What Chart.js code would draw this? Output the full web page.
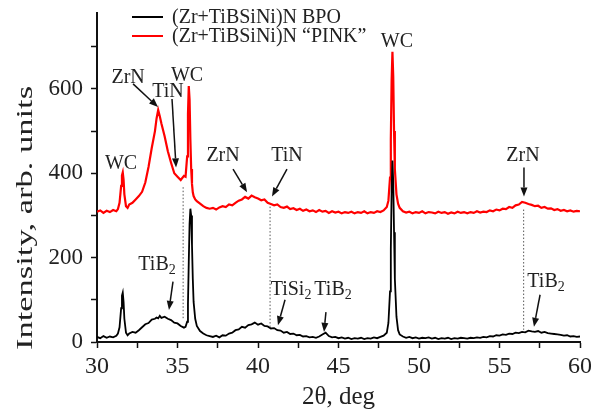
<!DOCTYPE html>
<html>
<head>
<meta charset="utf-8">
<script src="https://cdn.jsdelivr.net/npm/chart.js@4.4.1/dist/chart.umd.min.js"></script>
<style>
    html, body { margin: 0; padding: 0; background: #fff; }
</style>
</head>
<body>
<canvas id="xrd-chart" width="591" height="412"></canvas>
<script>
// 2theta grid, deg (finer around the sharp WC peaks)
const twoTheta = [
    30.0, 30.2, 30.4, 30.6, 30.8, 31.0, 31.2, 31.3, 31.4, 31.5, 31.55, 31.6, 31.65, 31.7, 31.8, 31.9, 32.0,
    32.2, 32.4, 32.6, 32.8, 33.0, 33.2, 33.4, 33.6, 33.7, 33.8, 33.9, 34.0, 34.2, 34.4, 34.6, 34.8, 35.0, 35.2, 35.4,
    35.5, 35.6, 35.65, 35.7, 35.75, 35.8, 35.85, 35.9, 35.95, 36.0, 36.1, 36.2,
    36.4, 36.6, 36.8, 37.0, 37.2, 37.4, 37.6, 37.8, 38.0, 38.2,
    38.4, 38.6, 38.8, 39.0, 39.2, 39.4, 39.6, 39.8, 40.0, 40.2,
    40.4, 40.6, 40.8, 41.0, 41.2, 41.4, 41.6, 41.8, 42.0, 42.2,
    42.4, 42.6, 42.8, 43.0, 43.2, 43.4, 43.6, 43.8, 44.0, 44.2,
    44.4, 44.6, 44.8, 45.0, 45.2, 45.4, 45.6, 45.8, 46.0, 46.2,
    46.4, 46.6, 46.8, 47.0, 47.2, 47.4, 47.6, 47.8,
    48.0, 48.1, 48.2, 48.25, 48.3, 48.35, 48.4, 48.45, 48.5, 48.6, 48.7, 48.8,
    49.0, 49.2, 49.4, 49.6, 49.8, 50.0, 50.2, 50.4, 50.6, 50.8,
    51.0, 51.2, 51.4, 51.6, 51.8, 52.0, 52.2, 52.4, 52.6, 52.8,
    53.0, 53.2, 53.4, 53.6, 53.8, 54.0, 54.2, 54.4, 54.6, 54.8,
    55.0, 55.2, 55.4, 55.6, 55.8, 56.0, 56.2, 56.4, 56.6, 56.8,
    57.0, 57.2, 57.4, 57.6, 57.8, 58.0, 58.2, 58.4, 58.6, 58.8,
    59.0, 59.2, 59.4, 59.6, 59.8, 60.0
];

const bpoIntensity = [
    12, 9, 14, 10, 13, 11, 15, 20, 35, 80, 110, 117, 95, 55, 22, 16, 20,
    24, 22, 28, 35, 42, 45, 53, 55, 58, 56, 62, 57, 60, 55, 52, 46, 44, 38, 34,
    36, 48, 90, 190, 280, 316, 300, 230, 150, 95, 55, 38,
    26, 20, 16, 14, 12, 15, 11, 16, 15, 20,
    22, 28, 30, 36, 34, 40, 42, 46, 41, 44,
    38, 37, 32, 33, 28, 27, 22, 24, 19, 20,
    16, 17, 13, 14, 11, 12, 10, 13, 18, 22,
    14, 11, 12, 9, 11, 8, 10, 7, 9, 8,
    10, 7, 9, 8, 11, 9, 12, 15,
    22, 45, 120, 220, 360, 430, 380, 260, 150, 60, 28, 18,
    13, 10, 12, 9, 11, 8, 10, 9, 11, 8,
    10, 7, 9, 8, 10, 7, 9, 8, 10, 9,
    8, 10, 9, 11, 10, 12, 11, 14, 13, 16,
    15, 18, 17, 20, 19, 22, 21, 24, 23, 27,
    25, 24, 26, 22, 24, 21, 20, 19, 18, 17,
    15, 16, 13, 14, 12, 13
];

const pinkIntensity = [
    309, 312, 306, 311, 308, 313, 310, 315, 330, 370, 395, 402, 385, 350, 322, 318, 326,
    330, 338, 346, 356, 378, 415, 460, 500, 530, 550, 535, 518, 488, 452, 425, 400, 392, 384, 394,
    392, 440, 540, 607, 575, 480, 410, 375, 355, 346, 338, 334,
    328, 322, 318, 316, 318, 314, 319, 322, 320, 326,
    324, 330, 335, 338, 344, 340, 347, 343, 340, 336,
    338, 330, 327, 324, 326, 320, 318, 321, 315, 317,
    313, 316, 311, 314, 310, 312, 308, 313, 309, 311,
    306, 310, 307, 309, 305, 308, 306, 309, 305, 308,
    306, 310, 305, 308, 306, 310, 308, 312,
    320, 335, 390, 480, 620, 688, 630, 500, 410, 350, 328, 318,
    310, 307, 309, 305, 308, 306, 310, 305, 308, 307,
    305, 309, 306, 308, 304, 307, 305, 309, 306, 308,
    305, 308, 306, 310, 307, 309, 308, 312, 310, 314,
    312, 316, 315, 320, 318, 324, 326, 332, 330, 327,
    325, 322, 323, 318, 320, 316, 317, 313, 315, 311,
    313, 310, 312, 309, 311, 310
];

const seriesNames = ["(Zr+TiBSiNi)N BPO", "(Zr+TiBSiNi)N \u201cPINK\u201d"];
const xTickLabels = [30, 35, 40, 45, 50, 55, 60];
const yTickLabels = [0, 200, 400, 600];

// phase marks: text, subscript, 2theta, intensity (baseline)
const phaseLabels = [
    ["WC", "", 31.49, 410],
    ["ZrN", "", 31.93, 614],
    ["TiN", "", 34.41, 581],
    ["WC", "", 35.59, 619],
    ["ZrN", "", 37.83, 429],
    ["TiN", "", 41.8, 429],
    ["WC", "", 48.63, 700],
    ["ZrN", "", 56.46, 429],
    ["TiB", "2", 33.73, 171],
    ["TiSi", "2", 42.05, 112],
    ["TiB", "2", 44.66, 112],
    ["TiB", "2", 57.89, 131]
];

// arrows: from (2theta, intensity) to (2theta, intensity)
const phaseArrows = [
    [32.24, 612, 33.79, 557],
    [34.66, 576, 34.91, 414],
    [38.45, 410, 39.32, 355],
    [41.8, 410, 40.87, 345],
    [56.52, 414, 56.52, 345],
    [34.72, 143, 34.47, 76],
    [41.68, 100, 41.24, 40],
    [44.22, 71, 44.1, 24],
    [57.52, 112, 57.14, 36]
];

// dotted guides: 2theta, from intensity, to intensity
const guideLines = [
    [35.35, 367, 52],
    [40.75, 321, 36],
    [56.5, 314, 29]
];

const serif = "'Liberation Serif', 'Times New Roman', serif";

const markupPlugin = {
    id: "markup",
    afterDatasetsDraw(chart) {
        const ctx = chart.ctx;
        const xs = chart.scales.x;
        const ys = chart.scales.y;
        ctx.save();

        // dotted guides
        ctx.strokeStyle = "#555";
        ctx.lineWidth = 1;
        ctx.setLineDash([1.5, 2]);
        guideLines.forEach(g => {
            const px = xs.getPixelForValue(g[0]);
            ctx.beginPath();
            ctx.moveTo(px, ys.getPixelForValue(g[1]));
            ctx.lineTo(px, ys.getPixelForValue(g[2]));
            ctx.stroke();
        });
        ctx.setLineDash([]);

        // arrows
        ctx.strokeStyle = "#111";
        ctx.fillStyle = "#111";
        ctx.lineWidth = 1.5;
        phaseArrows.forEach(a => {
            const x1 = xs.getPixelForValue(a[0]), y1 = ys.getPixelForValue(a[1]);
            const x2 = xs.getPixelForValue(a[2]), y2 = ys.getPixelForValue(a[3]);
            const ang = Math.atan2(y2 - y1, x2 - x1);
            const hl = 9, hw = 3.5;
            const bx = x2 - hl * Math.cos(ang), by = y2 - hl * Math.sin(ang);
            ctx.beginPath();
            ctx.moveTo(x1, y1);
            ctx.lineTo(bx, by);
            ctx.stroke();
            ctx.beginPath();
            ctx.moveTo(x2, y2);
            ctx.lineTo(bx + hw * Math.sin(ang), by - hw * Math.cos(ang));
            ctx.lineTo(bx - hw * Math.sin(ang), by + hw * Math.cos(ang));
            ctx.closePath();
            ctx.fill();
        });

        // labels
        ctx.fillStyle = "#222";
        ctx.textBaseline = "alphabetic";
        ctx.textAlign = "left";
        phaseLabels.forEach(l => {
            ctx.font = "20px " + serif;
            const w1 = ctx.measureText(l[0]).width;
            ctx.font = "14px " + serif;
            const w2 = l[1] ? ctx.measureText(l[1]).width : 0;
            const left = xs.getPixelForValue(l[2]) - (w1 + w2) / 2;
            const base = ys.getPixelForValue(l[3]);
            ctx.font = "20px " + serif;
            ctx.fillText(l[0], left, base);
            if (l[1]) {
                ctx.font = "14px " + serif;
                ctx.fillText(l[1], left + w1, base + 4);
            }
        });
        ctx.restore();
    },
    afterDraw(chart) {
        const ctx = chart.ctx;
        ctx.save();

        // legend, stacked at the top
        const rows = [17, 36];
        chart.data.datasets.forEach((ds, i) => {
            ctx.strokeStyle = ds.borderColor;
            ctx.lineWidth = 2;
            ctx.beginPath();
            ctx.moveTo(132, rows[i]);
            ctx.lineTo(163, rows[i]);
            ctx.stroke();
            ctx.fillStyle = "#222";
            ctx.font = "20px " + serif;
            ctx.textBaseline = "middle";
            ctx.textAlign = "left";
            ctx.fillText(ds.label, 172, rows[i] + 1);
        });

        // y axis title (drawn stretched like the original)
        ctx.translate(32, 218);
        ctx.rotate(-Math.PI / 2);
        ctx.scale(1.5, 1);
        ctx.font = "23px " + serif;
        ctx.fillStyle = "#222";
        ctx.textAlign = "center";
        ctx.textBaseline = "alphabetic";
        ctx.fillText("Intensity, arb. units", 0, 0);
        ctx.restore();
    }
};

const xrdChart = document.getElementById("xrd-chart");

new Chart(xrdChart, {
    type: "line",
    data: {
        datasets: [{
            label: seriesNames[0],
            data: twoTheta.map((t, i) => ({ x: t, y: bpoIntensity[i] })),
            borderColor: "#000000",
            borderWidth: 1.8,
            pointRadius: 0,
            tension: 0
        }, {
            label: seriesNames[1],
            data: twoTheta.map((t, i) => ({ x: t, y: pinkIntensity[i] })),
            borderColor: "#ff0000",
            borderWidth: 2.2,
            pointRadius: 0,
            tension: 0
        }]
    },
    options: {
        responsive: false,
        animation: false,
        layout: { padding: { top: 13, right: 11, left: 0, bottom: 0 } },
        plugins: {
            legend: { display: false },
            tooltip: { enabled: false }
        },
        scales: {
            x: {
                type: "linear",
                min: 30,
                max: 60,
                afterFit: scale => {
                    scale.height = 70;
                    scale.paddingLeft = 0;
                    scale.paddingRight = 0;
                },
                ticks: {
                    stepSize: 2.5,
                    autoSkip: false,
                    maxRotation: 0,
                    padding: 4,
                    color: "#222",
                    font: { family: serif, size: 24 },
                    callback: v => xTickLabels.includes(v) ? v : ""
                },
                grid: {
                    drawOnChartArea: false,
                    tickLength: 6,
                    tickWidth: 1.5,
                    tickColor: "#111"
                },
                border: { color: "#111", width: 2 },
                title: {
                    display: true,
                    text: "2\u03b8, deg",
                    color: "#222",
                    font: { family: serif, size: 25 },
                    padding: { top: 0, bottom: 0 }
                }
            },
            y: {
                min: 0,
                max: 780,
                afterFit: scale => {
                    scale.width = 97;
                    scale.paddingTop = 0;
                    scale.paddingBottom = 0;
                },
                ticks: {
                    stepSize: 100,
                    includeBounds: false,
                    padding: 8,
                    color: "#222",
                    font: { family: serif, size: 23 },
                    callback: v => yTickLabels.includes(v) ? v : ""
                },
                grid: {
                    drawOnChartArea: false,
                    tickLength: 6,
                    tickWidth: 1.5,
                    tickColor: "#111"
                },
                border: { color: "#111", width: 2 }
            }
        }
    },
    plugins: [markupPlugin]
});
</script>
</body>
</html>
